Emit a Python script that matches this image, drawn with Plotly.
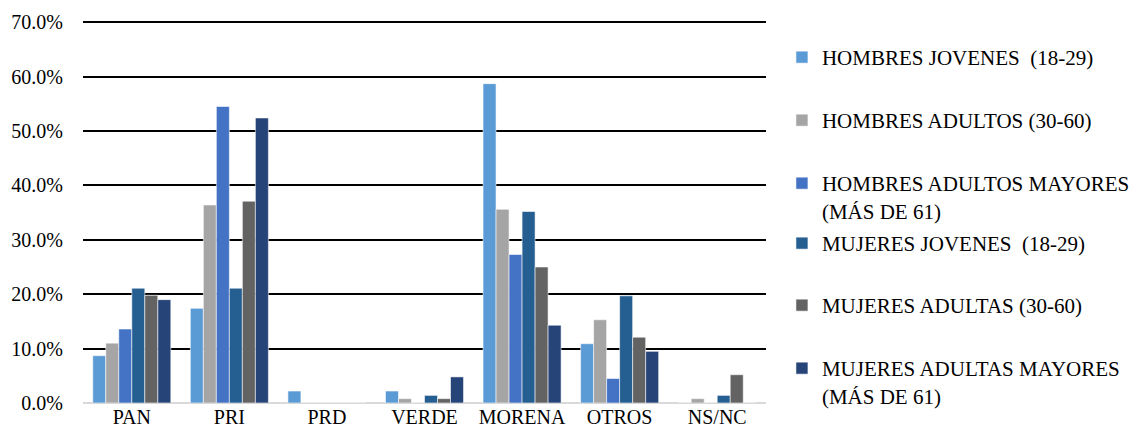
import plotly.graph_objects as go

categories = ["PAN", "PRI", "PRD", "VERDE", "MORENA", "OTROS", "NS/NC"]

series_names = [
    "HOMBRES JOVENES  (18-29)",
    "HOMBRES ADULTOS (30-60)",
    "HOMBRES ADULTOS MAYORES<br>(MÁS DE 61)",
    "MUJERES JOVENES  (18-29)",
    "MUJERES ADULTAS (30-60)",
    "MUJERES ADULTAS MAYORES<br>(MÁS DE 61)",
]

hombres_jovenes = [8.7, 17.4, 2.2, 2.2, 58.7, 10.9, 0.0]
hombres_adultos = [11.0, 36.4, 0.0, 0.8, 35.6, 15.3, 0.8]
hombres_mayores = [13.6, 54.5, 0.0, 0.0, 27.3, 4.5, 0.0]
mujeres_jovenes = [21.1, 21.1, 0.0, 1.4, 35.2, 19.7, 1.4]
mujeres_adultas = [19.8, 37.1, 0.0, 0.8, 25.0, 12.1, 5.2]
mujeres_mayores = [19.0, 52.4, 0.0, 4.8, 14.3, 9.5, 0.0]

series_values = [hombres_jovenes, hombres_adultos, hombres_mayores,
                 mujeres_jovenes, mujeres_adultas, mujeres_mayores]
colors = ["#5B9BD5", "#A5A5A5", "#4472C4", "#255E91", "#636363", "#264478"]

y_ticks = [0, 10, 20, 30, 40, 50, 60, 70]

FONT = "Liberation Serif"
legend_y = [0.9556, 0.7911, 0.6266, 0.4700, 0.3081, 0.1436]

fig = go.Figure()
legend_keys = ["legend", "legend2", "legend3", "legend4", "legend5", "legend6"]
for name, vals, col, lk in zip(series_names, series_values, colors, legend_keys):
    fig.add_trace(go.Bar(
        x=categories, y=vals, name=name,
        marker=dict(color=col, line=dict(color="rgba(255,255,255,0.7)", width=0.8)),
        legend=lk,
    ))

legend_common = dict(
    x=0.6837, xref="container", xanchor="left", yanchor="top",
    font=dict(family=FONT, size=21, color="#000"),
    valign="top", itemwidth=30, bgcolor="rgba(0,0,0,0)",
)
layout_legends = {lk: dict(y=ly, **legend_common) for lk, ly in zip(legend_keys, legend_y)}

fig.update_layout(
    width=1132, height=427,
    margin=dict(l=75, r=374, t=12, b=32),
    paper_bgcolor="white", plot_bgcolor="white",
    barmode="group", bargap=0.2, bargroupgap=0,
    font=dict(family=FONT, size=20, color="#000"),
    showlegend=True,
    xaxis=dict(
        showgrid=False, showline=False, ticks="", automargin=False,
        tickfont=dict(family=FONT, size=20),
    ),
    yaxis=dict(
        range=[0, 70.4], tickvals=y_ticks,
        ticktext=[f"{v:.1f}%" for v in y_ticks],
        showgrid=True, gridcolor="#000", gridwidth=1.5,
        zeroline=True, zerolinecolor="#D9D9D9", zerolinewidth=1.5,
        showline=False, ticks="", ticklabelstandoff=19, automargin=False,
        tickfont=dict(family=FONT, size=20),
    ),
    **layout_legends,
)

fig.write_html("out.html")
